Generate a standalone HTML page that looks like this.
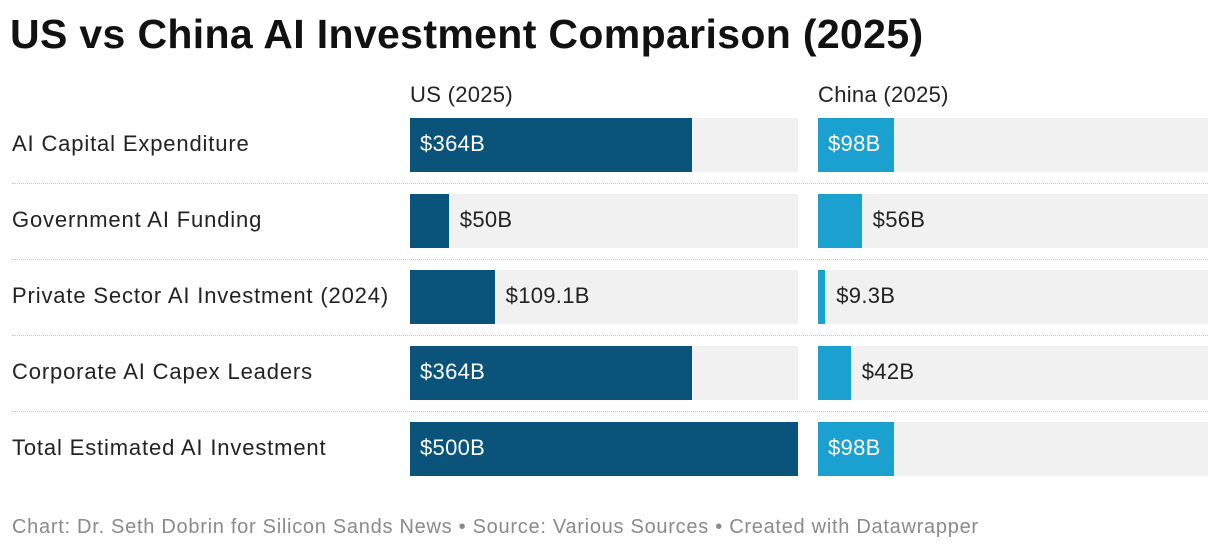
<!DOCTYPE html>
<html><head><meta charset="utf-8"><style>
body{margin:0;background:#fff;font-family:"Liberation Sans",Arial,sans-serif;}
#wrap{position:relative;width:1220px;height:552px;overflow:hidden;}
.t{position:absolute;white-space:nowrap;}
</style></head><body>
<div id="wrap">
<div class="t" style="left:10px;top:11px;font-size:41px;font-weight:bold;color:#111;letter-spacing:0.35px">US vs China AI Investment Comparison (2025)</div>
<div class="t" style="left:410px;top:82px;font-size:22px;color:#222;letter-spacing:0.3px">US (2025)</div>
<div class="t" style="left:818px;top:82px;font-size:22px;color:#222;letter-spacing:0.3px">China (2025)</div>
<div class="t" style="left:12px;top:516px;font-size:20px;color:#8a8a8a;letter-spacing:0.72px">Chart: Dr. Seth Dobrin for Silicon Sands News • Source: Various Sources • Created with Datawrapper</div>
</div>
<script>
const categories=["AI Capital Expenditure","Government AI Funding","Private Sector AI Investment (2024)","Corporate AI Capex Leaders","Total Estimated AI Investment"];
const usValues=[364,50,109.1,364,500];
const chinaValues=[98,56,9.3,42,98];
const usLabels=["$364B","$50B","$109.1B","$364B","$500B"];
const chinaLabels=["$98B","$56B","$9.3B","$42B","$98B"];
const maxVal=500;
const wrap=document.getElementById('wrap');
function mk(css,txt){const d=document.createElement('div');d.style.cssText='position:absolute;'+css;if(txt!==undefined)d.textContent=txt;wrap.appendChild(d);return d;}
const top0=118,pitch=76,bh=54;
const cols=[{x:410,w:388,vals:usValues,labs:usLabels,color:'#0a547b',name:'us'},{x:818,w:390,vals:chinaValues,labs:chinaLabels,color:'#1ba1cf',name:'china'}];
categories.forEach((c,i)=>{
  const y=top0+i*pitch;
  const l=mk(`left:12px;top:${y+13}px;font-size:22px;color:#222;white-space:nowrap;letter-spacing:0.85px`,c);
  
  
  if(i<categories.length-1){
    const s=mk(`left:12px;top:${y+65}px;width:1196px;border-top:1px dotted #c4c4c4;height:0`);
    
    
  }
  cols.forEach(col=>{
    const bg=mk(`left:${col.x}px;top:${y}px;width:${col.w}px;height:${bh}px;background:#f1f1f1`);
    
    
    const bw=col.vals[i]/maxVal*col.w;
    const b=mk(`left:${col.x}px;top:${y}px;width:${bw}px;height:${bh}px;background:${col.color}`);
    
    
    const v=mk(`left:${col.x+10}px;top:${y+13}px;font-size:22px;white-space:nowrap;color:#fff;letter-spacing:0.3px`,col.labs[i]);
    
    
    if(v.offsetWidth+20>bw){v.style.left=(col.x+bw+11)+'px';v.style.color='#222';}
  });
});
</script>
</body></html>
